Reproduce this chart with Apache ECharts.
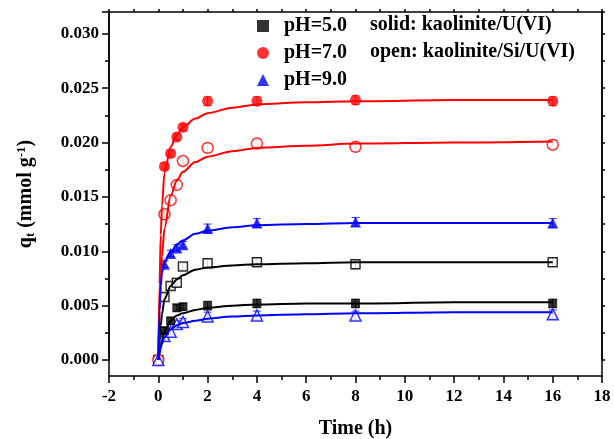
<!DOCTYPE html>
<html>
<head>
<meta charset="utf-8">
<script src="https://cdn.jsdelivr.net/npm/echarts@6/dist/echarts.min.js"></script>
<style>
html,body{margin:0;padding:0;background:#fff;}
#main{width:614px;height:439px;}
</style>
</head>
<body>
<div id="main"></div>
<script>
// sampling times (h) of the measured points
var timeH = [0, 0.25, 0.5, 0.75, 1, 2, 4, 8, 16];
var errQ = [0, 0.0003, 0.0003, 0.0003, 0.0003, 0.0004, 0.0004, 0.0004, 0.0004];

// measured qt (mmol/g), solid = kaolinite/U(VI), open = kaolinite/Si/U(VI)
var ph5Solid = [0, 0.0027, 0.0036, 0.0048, 0.0049, 0.0050, 0.0052, 0.0052, 0.0052];
var ph5Open  = [0, 0.0058, 0.0068, 0.0071, 0.0086, 0.0089, 0.0090, 0.0088, 0.0090];
var ph7Solid = [0, 0.0178, 0.0190, 0.0205, 0.0214, 0.0238, 0.0238, 0.0239, 0.0238];
var ph7Open  = [0, 0.0134, 0.0147, 0.0161, 0.0183, 0.0195, 0.0199, 0.0196, 0.0198];
var ph9Solid = [0, 0.0088, 0.0098, 0.0103, 0.0106, 0.0121, 0.0126, 0.0127, 0.0126];
var ph9Open  = [0, 0.0022, 0.0026, 0.0033, 0.0035, 0.0040, 0.0041, 0.0041, 0.0042];

// fitted curves
var fitTime    = [0, 0.05, 0.1, 0.15, 0.25, 0.5, 0.75, 1, 1.5, 2, 3, 4, 6, 8, 12, 16];
var fit5Solid  = [0, 0.0007, 0.0013, 0.0018, 0.0026, 0.0036, 0.0041, 0.0043, 0.0046, 0.0048, 0.0050, 0.0051, 0.0052, 0.0052, 0.0053, 0.0053];
var fit5Open   = [0, 0.0018, 0.0032, 0.0042, 0.0056, 0.0068, 0.0074, 0.0078, 0.0083, 0.0085, 0.0087, 0.0088, 0.0089, 0.0090, 0.0090, 0.0090];
var fit7Solid  = [0, 0.0070, 0.0115, 0.0142, 0.0172, 0.0196, 0.0207, 0.0214, 0.0222, 0.0227, 0.0232, 0.0235, 0.0237, 0.0238, 0.0239, 0.0239];
var fit7Open   = [0, 0.0046, 0.0075, 0.0095, 0.0121, 0.0151, 0.0165, 0.0173, 0.0182, 0.0187, 0.0192, 0.0195, 0.0197, 0.0199, 0.0200, 0.0201];
var fit9Solid  = [0, 0.0045, 0.0068, 0.0080, 0.0090, 0.0099, 0.0106, 0.0110, 0.0116, 0.0119, 0.0122, 0.0124, 0.0125, 0.0126, 0.0126, 0.0126];
var fit9Open   = [0, 0.0006, 0.0011, 0.0015, 0.0021, 0.0028, 0.0032, 0.0034, 0.0036, 0.0038, 0.0040, 0.0041, 0.0042, 0.0043, 0.0044, 0.0044];

var font = 'Liberation Serif';

function pairs(xs, ys) {
    return xs.map(function (x, i) { return [x, ys[i]]; });
}

var groups = [
    {name: 'pH=5.0', color: '#000000', symbol: 'rect', size: 9, solid: ph5Solid, open: ph5Open, fitS: fit5Solid, fitO: fit5Open},
    {name: 'pH=7.0', color: '#ff0000', symbol: 'circle', size: 11, solid: ph7Solid, open: ph7Open, fitS: fit7Solid, fitO: fit7Open},
    {name: 'pH=9.0', color: '#0000ff', symbol: 'triangle', size: 11, solid: ph9Solid, open: ph9Open, fitS: fit9Solid, fitO: fit9Open}
];

function errSeries(color, vals) {
    return {
        type: 'custom',
        silent: true,
        encode: {x: 0, y: 1},
        data: timeH.map(function (t, i) { return [t, vals[i], errQ[i]]; }),
        renderItem: function (params, api) {
            var x = api.value(0), y = api.value(1), e = api.value(2);
            if (!e) return null;
            var top = api.coord([x, y + e]);
            var bot = api.coord([x, y - e]);
            var st = {stroke: color, lineWidth: 1, opacity: 0.8};
            return {type: 'group', children: [
                {type: 'line', shape: {x1: top[0], y1: top[1], x2: bot[0], y2: bot[1]}, style: st},
                {type: 'line', shape: {x1: top[0] - 4, y1: top[1], x2: top[0] + 4, y2: top[1]}, style: st},
                {type: 'line', shape: {x1: bot[0] - 4, y1: bot[1], x2: bot[0] + 4, y2: bot[1]}, style: st}
            ]};
        }
    };
}

var series = [];
// fitted lines first
groups.forEach(function (g) {
    [g.fitS, g.fitO].forEach(function (f) {
        series.push({
            type: 'line',
            data: pairs(fitTime, f),
            showSymbol: false,
            smooth: 0.3,
            smoothMonotone: 'x',
            clip: false,
            silent: true,
            lineStyle: {color: g.color, width: 2}
        });
    });
});
// error bars
groups.forEach(function (g) {
    series.push(errSeries(g.color, g.solid));
    series.push(errSeries(g.color, g.open));
});
// open markers
groups.forEach(function (g) {
    series.push({
        type: 'scatter',
        name: g.name + ' open',
        symbol: g.symbol,
        symbolSize: g.size,
        clip: false,
        data: pairs(timeH, g.open),
        itemStyle: {color: '#ffffff', borderColor: g.color, borderWidth: 1.5}
    });
});
// solid markers
groups.forEach(function (g) {
    series.push({
        type: 'scatter',
        name: g.name,
        symbol: g.symbol,
        symbolSize: g.size,
        clip: false,
        data: pairs(timeH, g.solid).slice(1),
        itemStyle: {color: g.color}
    });
});

var axisLine = {show: true, onZero: false, lineStyle: {color: '#000', width: 1.5}};
var tickStyle = {width: 1.5, color: '#000'};

var option = {
    animation: false,
    backgroundColor: '#fff',
    // grid 0 holds the data (its bottom is q = 0), grid 1 is the frame with the time axis
    grid: [
        {left: 109, right: 12, top: 12, bottom: 79, containLabel: false, outerBoundsMode: 'none'},
        {left: 109, right: 12, top: 12, bottom: 63, containLabel: false, outerBoundsMode: 'none'}
    ],
    legend: {
        data: groups.map(function (g) { return g.name; }),
        orient: 'vertical',
        left: 252,
        top: 11,
        itemWidth: 12,
        itemHeight: 12,
        itemGap: 7,
        selectedMode: false,
        textStyle: {fontFamily: font, fontWeight: 'bold', fontSize: 20, color: '#000', padding: [0, 0, 0, 10]}
    },
    graphic: [
        {type: 'text', left: 370, top: 15, style: {text: 'solid: kaolinite/U(VI)', font: 'bold 20px "Liberation Serif"', fill: '#000'}},
        {type: 'text', left: 370, top: 42, style: {text: 'open: kaolinite/Si/U(VI)', font: 'bold 20px "Liberation Serif"', fill: '#000'}}
    ],
    xAxis: [
        {gridIndex: 0, type: 'value', min: -2, max: 18, show: false},
        {
            gridIndex: 1, type: 'value', position: 'bottom', min: -2, max: 18, interval: 2,
            axisLine: axisLine,
            axisTick: {show: true, length: 7, lineStyle: tickStyle},
            minorTick: {show: true, splitNumber: 2, length: 4, lineStyle: tickStyle},
            splitLine: {show: false},
            axisLabel: {fontFamily: font, fontWeight: 'bold', fontSize: 17, color: '#000', margin: 12},
            name: 'Time (h)', nameLocation: 'middle', nameGap: 43,
            nameTextStyle: {fontFamily: font, fontWeight: 'bold', fontSize: 20, color: '#000'}
        },
        {
            gridIndex: 1, type: 'value', position: 'top', min: -2, max: 18, interval: 2,
            axisLine: axisLine,
            axisTick: {show: true, length: 3, lineStyle: tickStyle},
            minorTick: {show: true, splitNumber: 2, length: 3, lineStyle: tickStyle},
            splitLine: {show: false},
            axisLabel: {show: false}
        }
    ],
    yAxis: [
        {
            gridIndex: 0, type: 'value', position: 'left', min: 0, max: 0.032, interval: 0.005,
            axisLine: axisLine,
            axisTick: {show: true, length: 7, lineStyle: tickStyle},
            minorTick: {show: true, splitNumber: 2, length: 4, lineStyle: tickStyle},
            splitLine: {show: false},
            axisLabel: {
                margin: 10, showMaxLabel: false,
                fontFamily: font, fontWeight: 'bold', fontSize: 17, color: '#000',
                formatter: function (v) { return v.toFixed(3); }
            }
        },
        {
            gridIndex: 0, type: 'value', position: 'right', min: 0, max: 0.032, interval: 0.005,
            axisLine: axisLine,
            axisTick: {show: true, length: 3, lineStyle: tickStyle},
            minorTick: {show: true, splitNumber: 2, length: 3, lineStyle: tickStyle},
            splitLine: {show: false},
            axisLabel: {show: false}
        },
        {
            gridIndex: 1, type: 'value', position: 'left', min: 0, max: 1,
            axisLine: axisLine, axisTick: {show: false}, axisLabel: {show: false}, splitLine: {show: false},
            name: 'q{sub|t} (mmol g{sup|-1})', nameLocation: 'middle', nameGap: 72,
            nameTextStyle: {
                fontFamily: font, fontWeight: 'bold', fontSize: 20, color: '#000',
                rich: {
                    sub: {fontFamily: font, fontWeight: 'bold', fontSize: 13, padding: [9, 0, 0, 0]},
                    sup: {fontFamily: font, fontWeight: 'bold', fontSize: 13, padding: [0, 0, 9, 0]}
                }
            }
        },
        {
            gridIndex: 1, type: 'value', position: 'right', min: 0, max: 1,
            axisLine: axisLine, axisTick: {show: false}, axisLabel: {show: false}, splitLine: {show: false}
        }
    ],
    series: series
};

var chart = echarts.init(document.getElementById('main'));
chart.setOption(option);
</script>
</body>
</html>
